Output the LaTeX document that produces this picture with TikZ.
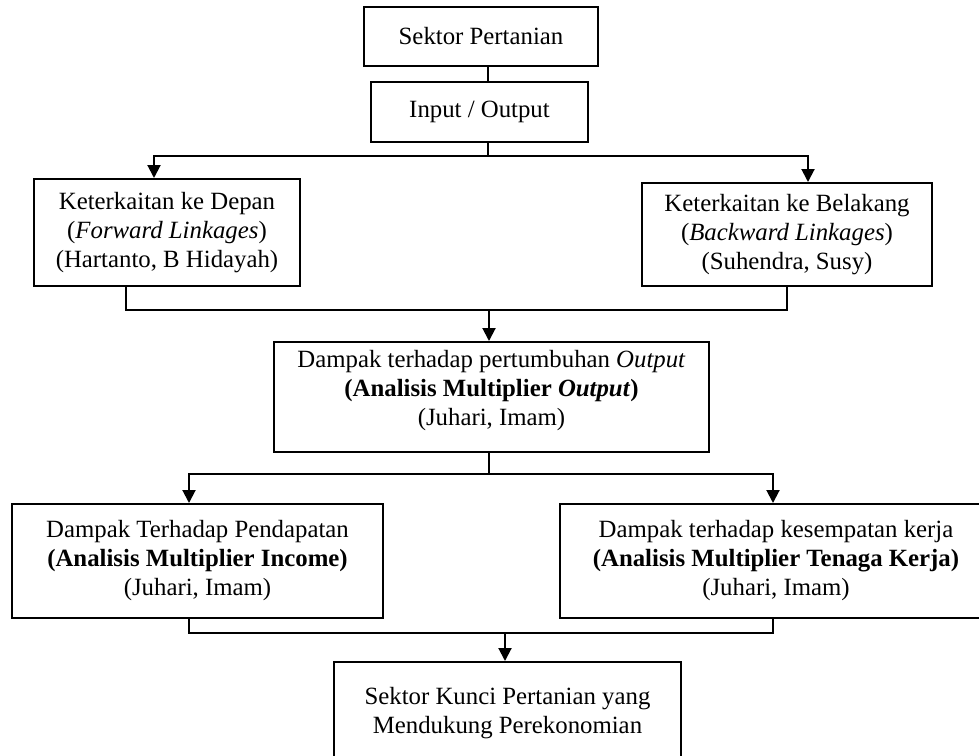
\documentclass[tikz,border=0pt]{standalone}
\usepackage{fontspec}
\setmainfont{Liberation Serif}
\usetikzlibrary{arrows.meta}

\begin{document}
\begin{tikzpicture}[
    x=0.5pt, y=-0.5pt,
    font=\fontsize{12.4pt}{14.5pt}\selectfont,
    box/.style={rectangle, draw, line width=1pt, align=center, inner xsep=2pt, inner ysep=1.4pt},
    link/.style={line width=1pt},
    arr/.style={link, -{Triangle[length=6.5pt, width=6.5pt]}}
]
    \useasboundingbox (0,0) rectangle (979,755);
    \clip (0,0) rectangle (979,755);

    % Sektor
    \node[box, minimum width=117pt, minimum height=29.5pt] (sektor) at (481,36.5) {Sektor Pertanian};
    \node[box, minimum width=108.5pt, minimum height=30pt] (io) at (479.5,112) {Input / Output};

    % Keterkaitan
    \node[box, minimum width=133pt, minimum height=53.5pt] (fwd) at (167,232.5) {Keterkaitan ke Depan\\(\textit{Forward Linkages})\\(Hartanto, B Hidayah)};
    \node[box, minimum width=145pt, minimum height=51.5pt] (bwd) at (787,234.5) {Keterkaitan ke Belakang\\(\textit{Backward Linkages})\\(Suhendra, Susy)};

    % Dampak
    \node[box, minimum width=217.5pt, minimum height=55pt] (output) at (491.5,397) {Dampak terhadap pertumbuhan \textit{Output}\\\textbf{(Analisis Multiplier \textit{Output})}\\(Juhari, Imam)\\[-5pt]\mbox{}};
    \node[box, minimum width=185.5pt, minimum height=57pt] (income) at (197.5,561) {Dampak Terhadap Pendapatan\\\textbf{(Analisis Multiplier Income)}\\(Juhari, Imam)};
    \node[box, minimum width=216pt, minimum height=57pt] (kerja) at (776,561) {Dampak terhadap kesempatan kerja\\\textbf{(Analisis Multiplier Tenaga Kerja)}\\(Juhari, Imam)};

    % Sektor kunci
    \node[box, minimum width=173.5pt, minimum height=51pt, anchor=north] (kunci) at (507.5,661) {Sektor Kunci Pertanian yang\\Mendukung Perekonomian};

    % Links
    \coordinate (split1) at (488,156);
    \coordinate (join1) at (489,310);
    \coordinate (split2) at (489,474);
    \coordinate (join2) at (505,633);

    \draw[link] (sektor.south -| split1) -- (io.north -| split1);
    \draw[link] (io.south -| split1) -- (split1);
    \draw[arr] (split1) -| ([xshift=-6.5pt]fwd.north);
    \draw[arr] (split1) -| ([xshift=10.5pt]bwd.north);

    \draw[link] ([xshift=-20.5pt]fwd.south) |- (join1);
    \draw[link] (bwd.south) |- (join1);
    \draw[arr] (join1) -- (output.north -| join1);

    \draw[link] (output.south -| split2) -- (split2);
    \draw[arr] (split2) -| ([xshift=-4.25pt]income.north);
    \draw[arr] (split2) -| ([xshift=-1.5pt]kerja.north);

    \draw[link] ([xshift=-4.25pt]income.south) |- (join2);
    \draw[link] ([xshift=-1.5pt]kerja.south) |- (join2);
    \draw[arr] (join2) -- (kunci.north -| join2);
\end{tikzpicture}
\end{document}
